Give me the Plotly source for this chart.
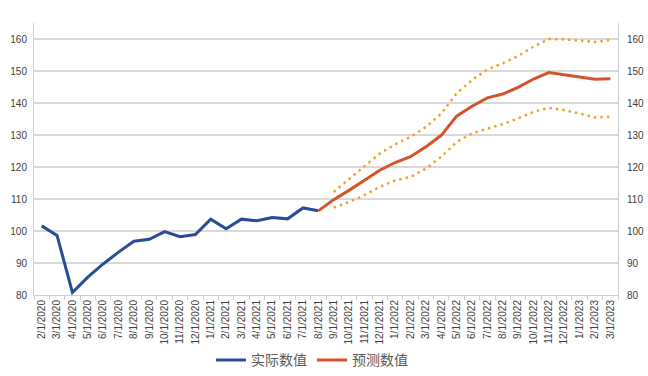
import plotly.graph_objects as go

months = ["2/1/2020","3/1/2020","4/1/2020","5/1/2020","6/1/2020","7/1/2020","8/1/2020","9/1/2020",
          "10/1/2020","11/1/2020","12/1/2020","1/1/2021","2/1/2021","3/1/2021","4/1/2021","5/1/2021",
          "6/1/2021","7/1/2021","8/1/2021","9/1/2021","10/1/2021","11/1/2021","12/1/2021","1/1/2022",
          "2/1/2022","3/1/2022","4/1/2022","5/1/2022","6/1/2022","7/1/2022","8/1/2022","9/1/2022",
          "10/1/2022","11/1/2022","12/1/2022","1/1/2023","2/1/2023","3/1/2023"]

actual_months = months[:19]
actual = [101.6, 98.6, 80.8, 85.6, 89.7, 93.4, 96.8, 97.4, 99.8, 98.2, 98.9, 103.7, 100.7,
          103.7, 103.2, 104.2, 103.8, 107.2, 106.3]

forecast_months = months[18:]
forecast = [106.3, 109.8, 112.7, 115.8, 119.0, 121.4, 123.2, 126.3, 129.9, 135.9, 139.0,
            141.6, 142.8, 144.9, 147.5, 149.5, 148.8, 148.2, 147.4, 147.6]

band_months = months[19:]
upper = [112.2, 116.2, 120.5, 124.2, 127.1, 129.4, 132.5, 136.7, 143.0, 147.2, 150.5,
         152.4, 154.7, 157.6, 160.0, 159.9, 159.5, 159.1, 159.7]
lower = [107.3, 109.1, 111.2, 113.8, 115.8, 116.9, 119.5, 123.2, 127.8, 130.5, 132.0,
         133.4, 135.2, 137.2, 138.5, 137.8, 136.7, 135.5, 135.7]

y_ticks = [80, 90, 100, 110, 120, 130, 140, 150, 160]

BLUE = "#2A4C94"
ORANGE = "#D5532A"
GOLD = "#F2A12E"

fig = go.Figure()
fig.add_trace(go.Scatter(x=band_months, y=upper, mode="lines", showlegend=False,
                         line=dict(color=GOLD, width=2.5, dash="2.5px,4px")))
fig.add_trace(go.Scatter(x=band_months, y=lower, mode="lines", showlegend=False,
                         line=dict(color=GOLD, width=2.5, dash="2.5px,4px")))
fig.add_trace(go.Scatter(x=actual_months, y=actual, mode="lines", name="实际数值",
                         line=dict(color=BLUE, width=3)))
fig.add_trace(go.Scatter(x=forecast_months, y=forecast, mode="lines", name="预测数值",
                         line=dict(color=ORANGE, width=3)))
fig.add_trace(go.Scatter(x=forecast_months, y=forecast, mode="lines", yaxis="y2",
                         showlegend=False, hoverinfo="skip",
                         line=dict(color="rgba(0,0,0,0)", width=0)))

axis_font = dict(family="Liberation Sans, Arial, sans-serif", size=10, color="#404040")

fig.update_layout(
    width=648, height=376,
    margin=dict(l=34, r=30, t=23, b=81, autoexpand=False),
    paper_bgcolor="white", plot_bgcolor="white",
    font=dict(family="Noto Sans CJK SC, sans-serif"),
    xaxis=dict(type="category", categoryorder="array", categoryarray=months,
               range=[-0.5, 37.5], tickangle=-90, tickfont=axis_font, automargin=False,
               showgrid=False, showline=True, linecolor="#D0D0D0", linewidth=1,
               ticks="outside", tickson="boundaries", ticklen=4, tickcolor="#D0D0D0",
               zeroline=False),
    yaxis=dict(range=[80, 165], tickvals=y_ticks, automargin=False,
               tickfont=axis_font, showgrid=True, gridcolor="#D9D9D9", gridwidth=1.5,
               showline=True, linecolor="#D0D0D0", linewidth=1, zeroline=False,
               ticks="", ticklabelstandoff=4),
    yaxis2=dict(range=[80, 165], tickvals=y_ticks, automargin=False,
                overlaying="y", side="right", tickfont=axis_font, showgrid=False,
                showline=True, linecolor="#D0D0D0", linewidth=1, zeroline=False,
                ticklabelstandoff=6),
    legend=dict(orientation="h", x=0.476, xanchor="center", y=-0.24, yanchor="middle",
                font=dict(family="Noto Sans CJK SC, sans-serif", size=14, color="#595959"),
                itemwidth=30),
    showlegend=True,
)

fig.write_html("out.html", config={"displayModeBar": False},
               post_script="document.body.style.margin='0';document.body.style.overflow='hidden';")
